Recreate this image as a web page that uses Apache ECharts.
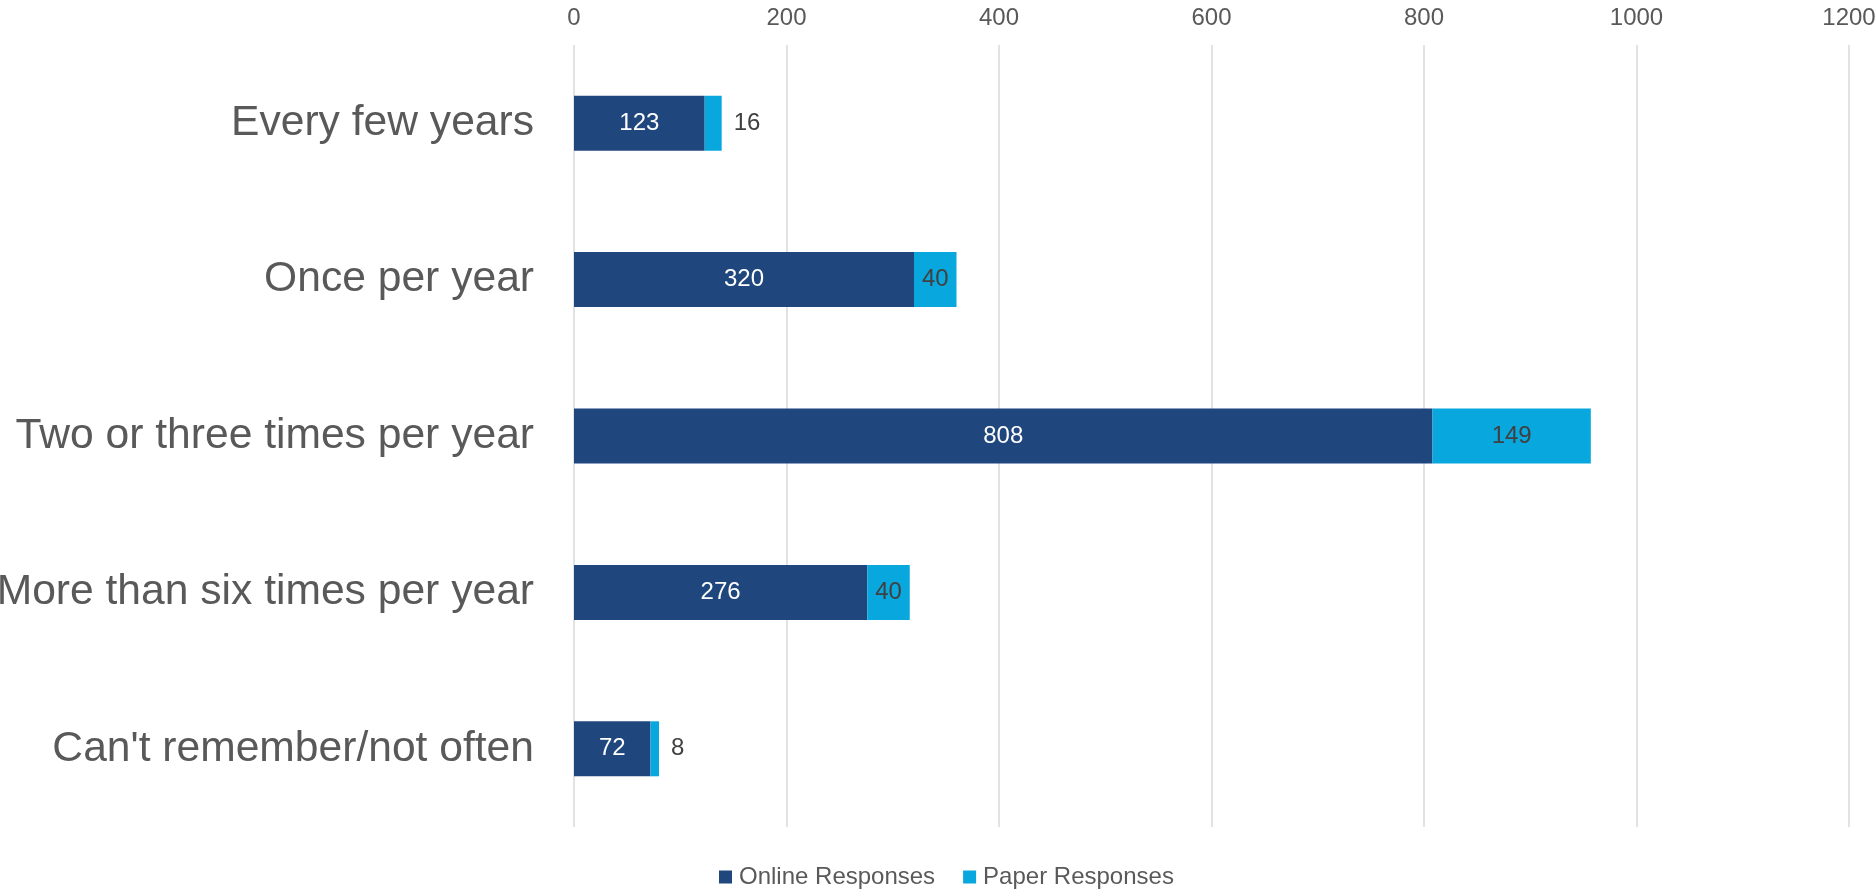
<!DOCTYPE html>
<html>
<head>
<meta charset="utf-8">
<script src="https://cdn.jsdelivr.net/npm/echarts@6/dist/echarts.min.js"></script>
<style>
html,body{margin:0;padding:0;background:#fff;}
#chart{width:1875px;height:890px;}
</style>
</head>
<body>
<div id="chart"></div>
<script>
var categories = ["Every few years", "Once per year", "Two or three times per year", "More than six times per year", "Can't remember/not often"];
var online = [123, 320, 808, 276, 72];
var paper = [16, 40, 149, 40, 8];
var paperLabelPos = ["right", "inside", "inside", "inside", "right"];
var seriesNames = ["Online Responses", "Paper Responses"];
var axisMin = 0, axisMax = 1200, axisStep = 200;

var FONT = "'Liberation Sans', Arial, sans-serif";
var TXT = "#595959";

var chart = echarts.init(document.getElementById('chart'), null, {renderer: 'canvas'});
chart.setOption({
  animation: false,
  backgroundColor: '#fff',
  textStyle: {fontFamily: FONT},
  grid: {left: 574, right: 26, top: 45, bottom: 63, containLabel: false, outerBoundsMode: 'none'},
  legend: {
    top: 860,
    left: 714,
    itemWidth: 13, itemHeight: 13, itemGap: 28,
    icon: 'rect',
    textStyle: {fontFamily: FONT, fontSize: 24, color: TXT, padding: [0,0,0,2]},
    data: seriesNames
  },
  xAxis: {
    type: 'value', position: 'top',
    min: axisMin, max: axisMax, interval: axisStep,
    axisLine: {show: false}, axisTick: {show: false},
    axisLabel: {fontFamily: FONT, fontSize: 24, color: TXT, margin: 15, formatter: function(v){ return String(v); }},
    splitLine: {show: true, lineStyle: {color: '#d9d9d9', width: 1.5}}
  },
  yAxis: {
    type: 'category', inverse: true, data: categories,
    axisLine: {show: false}, axisTick: {show: false},
    axisLabel: {fontFamily: FONT, fontSize: 42.6, color: TXT, margin: 40}
  },
  series: [
    {
      name: seriesNames[0], type: 'bar', stack: 'total', barWidth: 55,
      itemStyle: {color: '#1F477D'},
      label: {show: true, position: 'inside', color: '#fff', fontFamily: FONT, fontSize: 24},
      data: online
    },
    {
      name: seriesNames[1], type: 'bar', stack: 'total', barWidth: 55,
      itemStyle: {color: '#08A8DF'},
      data: paper.map(function(v, i){
        return {value: v, label: {show: true, position: paperLabelPos[i], distance: 12, color: '#404040', fontFamily: FONT, fontSize: 24}};
      })
    }
  ]
});
</script>
</body>
</html>
